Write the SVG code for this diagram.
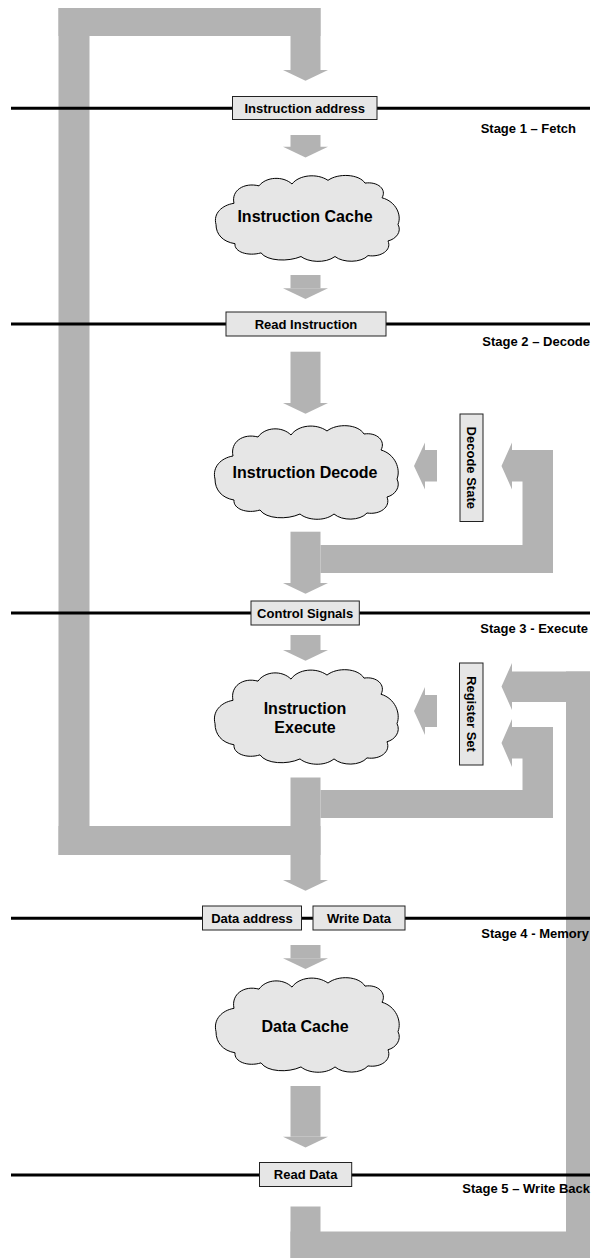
<svg xmlns="http://www.w3.org/2000/svg" xmlns:xlink="http://www.w3.org/1999/xlink" width="591" height="1258" viewBox="0 0 591 1258">
<style>
.flow{fill:#b3b3b3;stroke:none}
.sline{stroke:#000;stroke-width:3}
.box{fill:#e6e6e6;stroke:#222;stroke-width:1}
.cloud{fill:#e6e6e6;stroke:#000;stroke-width:1}
.lbl{font-family:"Liberation Sans",Arial,sans-serif;font-weight:bold;font-size:13px;fill:#000;text-anchor:middle}
.stage{font-family:"Liberation Sans",Arial,sans-serif;font-weight:bold;font-size:13px;fill:#000;text-anchor:end}
.cl{font-family:"Liberation Sans",Arial,sans-serif;font-weight:bold;font-size:16px;fill:#000;text-anchor:middle}
</style>
<defs>
<path id="cloudshape" vector-effect="non-scaling-stroke" d="M 3,56 C 0,44 9,35 21,33 C 18,19 31,10 46,14 C 53,4 70,3 79,12 C 86,2 104,0 115,8 C 125,0 146,1 152,11 C 165,9 174,18 169,27 C 183,31 189,46 185,56 C 189,64 183,72 175,74 C 179,84 168,92 155,90 C 148,98 130,98 122,91 C 112,99 95,97 88,91 C 75,97 54,96 48,87 C 35,91 21,86 22,77 C 10,75 3,67 3,56 Z"/>
<polygon id="downhead" points="283,0 328,0 305.5,10.7"/>
</defs>

<g id="connectors">
  <!-- big left loop: Execute -> Instruction address -->
  <rect class="flow" x="58.5" y="8" width="31" height="847"/>
  <rect class="flow" x="58.5" y="8" width="262" height="28"/>
  <rect class="flow" x="290.5" y="8" width="30" height="62"/>
  <use href="#downhead" class="flow" y="70"/>
  <rect class="flow" x="58.5" y="826" width="262" height="29"/>
  <!-- Stage 1 -->
  <rect class="flow" x="290.5" y="135" width="30" height="12"/>
  <use href="#downhead" class="flow" y="146.7"/>
  <rect class="flow" x="290.5" y="275" width="30" height="13.3"/>
  <use href="#downhead" class="flow" y="288.3"/>
  <!-- Stage 2 -->
  <rect class="flow" x="290.5" y="351.7" width="30" height="51.3"/>
  <use href="#downhead" class="flow" y="403"/>
  <polygon class="flow" points="414,466 425,442.5 425,450 437,450 437,481.5 425,481.5 425,489.5"/>
  <polygon class="flow" points="501.5,466 512,442.5 512,450 553,450 553,573 320.5,573 320.5,545 522.5,545 522.5,481.5 512,481.5 512,489.5"/>
  <rect class="flow" x="290.5" y="531.7" width="30" height="51.3"/>
  <use href="#downhead" class="flow" y="583"/>
  <!-- Stage 3 -->
  <rect class="flow" x="290.5" y="635" width="30" height="15"/>
  <use href="#downhead" class="flow" y="650"/>
  <polygon class="flow" points="414,711 425,687 425,695 437,695 437,727 425,727 425,735"/>
  <polygon class="flow" points="501.5,686.5 512,663 512,671.5 590,671.5 590,702 512,702 512,710"/>
  <polygon class="flow" points="501.5,743 512,719 512,727 553,727 553,818 320.5,818 320.5,790 522.5,790 522.5,758.5 512,758.5 512,767"/>
  <rect class="flow" x="290.5" y="777.5" width="30" height="102.5"/>
  <use href="#downhead" class="flow" y="880"/>
  <!-- Stage 4 -->
  <rect class="flow" x="290.5" y="945" width="30" height="13.3"/>
  <use href="#downhead" class="flow" y="958.3"/>
  <rect class="flow" x="290.5" y="1086" width="30" height="50.7"/>
  <use href="#downhead" class="flow" y="1136.7"/>
  <!-- write back loop -->
  <rect class="flow" x="566" y="671.5" width="24" height="586.5"/>
  <rect class="flow" x="290.5" y="1231.5" width="299.5" height="26.5"/>
  <rect class="flow" x="290.5" y="1206.5" width="30" height="51.5"/>
</g>

<g id="stage-lines">
  <line class="sline" x1="11" y1="108.3" x2="590" y2="108.3"/>
  <line class="sline" x1="11" y1="324" x2="590" y2="324"/>
  <line class="sline" x1="11" y1="613" x2="590" y2="613"/>
  <line class="sline" x1="11" y1="918.3" x2="590" y2="918.3"/>
  <line class="sline" x1="11" y1="1175" x2="590" y2="1175"/>
</g>

<g id="stage-labels">
  <text class="stage" x="576" y="133.3">Stage 1 – Fetch</text>
  <text class="stage" x="590" y="345.5">Stage 2 – Decode</text>
  <text class="stage" x="588" y="632.6">Stage 3 - Execute</text>
  <text class="stage" x="589" y="937.6">Stage 4 - Memory</text>
  <text class="stage" x="590" y="1192.6">Stage 5 – Write Back</text>
</g>

<g id="instruction-address">
  <rect class="box" x="232.5" y="96.5" width="144.5" height="23"/>
  <text class="lbl" x="304.75" y="112.8">Instruction address</text>
</g>
<g id="instruction-cache">
  <use href="#cloudshape" class="cloud" transform="translate(213,173) scale(1,0.918)"/>
  <text class="cl" x="305" y="222">Instruction Cache</text>
</g>
<g id="read-instruction">
  <rect class="box" x="226" y="312" width="160" height="24"/>
  <text class="lbl" x="306" y="328.6">Read Instruction</text>
</g>
<g id="instruction-decode">
  <use href="#cloudshape" class="cloud" transform="translate(212,423)"/>
  <text class="cl" x="305" y="478">Instruction Decode</text>
</g>
<g id="decode-state">
  <rect class="box" x="460" y="414" width="23" height="107.5"/>
  <text class="lbl" transform="translate(466.9,467.8) rotate(90)" x="0" y="0">Decode State</text>
</g>
<g id="control-signals">
  <rect class="box" x="251" y="601" width="108.3" height="24"/>
  <text class="lbl" x="305.15" y="617.6">Control Signals</text>
</g>
<g id="instruction-execute">
  <use href="#cloudshape" class="cloud" transform="translate(212,667) scale(1,1.01)"/>
  <text class="cl" x="305" y="713.5">Instruction</text>
  <text class="cl" x="305" y="732.5">Execute</text>
</g>
<g id="register-set">
  <rect class="box" x="459.5" y="663" width="23.5" height="102"/>
  <text class="lbl" transform="translate(466.6,714) rotate(90)" x="0" y="0">Register Set</text>
</g>
<g id="data-address">
  <rect class="box" x="202.5" y="906" width="99" height="24"/>
  <text class="lbl" x="252" y="922.6">Data address</text>
</g>
<g id="write-data">
  <rect class="box" x="313" y="906" width="92" height="24"/>
  <text class="lbl" x="359" y="922.6">Write Data</text>
</g>
<g id="data-cache">
  <use href="#cloudshape" class="cloud" transform="translate(213,975) scale(1,1.01)"/>
  <text class="cl" x="305" y="1032">Data Cache</text>
</g>
<g id="read-data">
  <rect class="box" x="259.5" y="1162.5" width="92.2" height="24"/>
  <text class="lbl" x="305.6" y="1179">Read Data</text>
</g>
</svg>
